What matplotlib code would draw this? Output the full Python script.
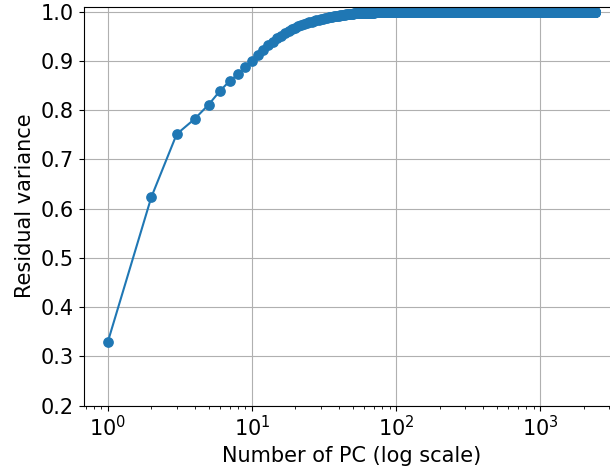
import matplotlib
matplotlib.use("Agg")
import matplotlib.pyplot as plt

# residual variance, PC 1..50
head_values = [
    0.330, 0.623, 0.751, 0.782, 0.811, 0.839, 0.859, 0.873, 0.887, 0.899,
    0.911, 0.922, 0.931, 0.939, 0.946, 0.951, 0.956, 0.960, 0.964, 0.967,
    0.970, 0.972, 0.974, 0.976, 0.978, 0.979, 0.981, 0.982, 0.983, 0.984,
    0.985, 0.986, 0.987, 0.988, 0.988, 0.989, 0.990, 0.990, 0.991, 0.991,
    0.992, 0.992, 0.993, 0.993, 0.994, 0.994, 0.994, 0.995, 0.995, 0.995,
]
# after PC 50 the curve sits on flat runs: (level, number of PCs)
tail_levels = [0.996, 0.997, 0.998, 0.999, 1.0]
tail_counts = [10, 10, 15, 25, 2280]

values = list(head_values)
for level, count in zip(tail_levels, tail_counts):
    values += [level] * count
n_pc = list(range(1, len(values) + 1))

plt.rcParams['font.size'] = 15

fig = plt.figure(figsize=(6.1, 4.7), dpi=100)
ax = fig.add_axes([0.137, 0.137, 0.878, 0.849])
ax.plot(n_pc, values, marker='o', markersize=6.7, color='#1f77b4', linewidth=1.5)
ax.set_xscale('log')
ax.set_ylim(0.2, 1.01)
ax.set_xlabel("Number of PC (log scale)")
ax.set_ylabel("Residual variance")
ax.grid(True)
fig.savefig("out.png", dpi=100)
